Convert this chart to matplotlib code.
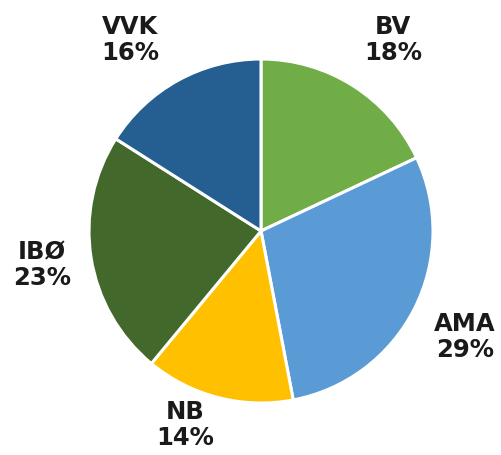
import matplotlib
matplotlib.use("Agg")
import matplotlib.pyplot as plt
import numpy as np

categories = ["BV", "AMA", "NB", "IBØ", "VVK"]
values = [18, 29, 14, 23, 16]
colors = ["#70AD47", "#5B9BD5", "#FFC000", "#43682B", "#255E91"]
labels = [f"{c}\n{v}%" for c, v in zip(categories, values)]

# label placement style: radial distance and angular shift per label
label_dist = [1.355, 1.334, 1.206, 1.288, 1.351]
label_shift = [-2.1, -0.2, -7.1, -0.4, 5.5]

W, H = 502, 456
fig = plt.figure(figsize=(W / 100, H / 100), dpi=100)
ax = fig.add_axes([0, 0, 1, 1])
R = 172.0
cx, cy = 261.0, 232.0
wedges, _ = ax.pie(values, colors=colors, startangle=90,
                   counterclock=False,
                   wedgeprops=dict(edgecolor="white", linewidth=2.2))
for w, lab, d, s in zip(wedges, labels, label_dist, label_shift):
    mid = np.deg2rad((w.theta1 + w.theta2) / 2 + s)
    ax.text(d * np.cos(mid), d * np.sin(mid), lab, ha="center", va="center",
            fontsize=17.5, fontweight="bold", color="#1a1a1a",
            family="DejaVu Sans", linespacing=1.12)
ax.set_aspect("auto")
ax.set_xlim(-cx / R, (W - cx) / R)
ax.set_ylim(-(H - cy) / R, cy / R)
ax.axis("off")
fig.savefig("out.png", dpi=100)
